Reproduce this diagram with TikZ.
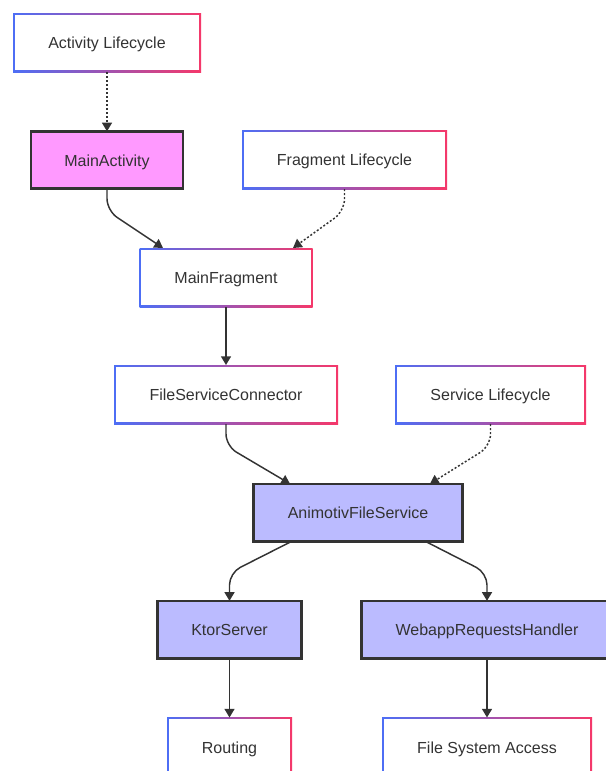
\documentclass[tikz,border=0pt]{standalone}
\usepackage{fontspec}
\setmainfont{Liberation Sans}
\usetikzlibrary{arrows.meta,calc}
\definecolor{txtgray}{HTML}{333333}
\definecolor{edgeblue}{HTML}{4D6EF5}
\definecolor{edgepink}{HTML}{F5386A}
\definecolor{actfill}{HTML}{FF99FF}
\definecolor{svcfill}{HTML}{BBBBFF}

\begin{document}
\begin{tikzpicture}[x=0.75pt,y=-0.75pt,
  box/.style={rectangle,minimum height=44.25pt,inner sep=0pt,outer sep=0pt,text height=9.5pt,text depth=0pt,text=txtgray,font=\fontsize{12pt}{14pt}\selectfont},
  lifebox/.style={box,path picture={
    \shade[left color=edgeblue,right color=edgepink] (path picture bounding box.south west) rectangle (path picture bounding box.north east);
    \fill[white] ([shift={(1.3pt,1.3pt)}]path picture bounding box.south west) rectangle ([shift={(-1.3pt,-1.3pt)}]path picture bounding box.north east);}},
  corebox/.style={box,draw=txtgray,line width=2pt,minimum height=43pt},
  link/.style={draw=txtgray,line width=1.1pt,-{Triangle[width=7.5pt,length=6.5pt]},rounded corners=9pt},
  hook/.style={link,dash pattern=on 1.5pt off 1.5pt}]
\useasboundingbox (0,0) rectangle (606,771);
\clip (0,0) rectangle (606,771);

\node[lifebox,minimum width=141pt] (actlc) at (107,42.5) {Activity Lifecycle};
\node[corebox,fill=actfill,minimum width=114pt] (mainact) at (107,160) {MainActivity};
\node[lifebox,minimum width=153.75pt] (fraglc) at (344.5,159.5) {Fragment Lifecycle};
\node[lifebox,minimum width=129.75pt] (mainfrag) at (226,277.5) {MainFragment};
\node[lifebox,minimum width=168pt] (fsconn) at (226,394.5) {FileServiceConnector};
\node[lifebox,minimum width=143.25pt] (svclc) at (490.5,394.5) {Service Lifecycle};
\node[corebox,fill=svcfill,minimum width=157pt] (afs) at (358,512.5) {AnimotivFileService};
\node[corebox,fill=svcfill,minimum width=108pt] (ktor) at (229.5,629.5) {KtorServer};
\node[corebox,fill=svcfill,minimum width=188pt] (webapp) at (487,629.5) {WebappRequestsHandler};
\node[lifebox,minimum width=93.75pt] (routing) at (229.5,747) {Routing};
\node[lifebox,minimum width=157.5pt] (fsaccess) at (487,747) {File System Access};

\draw[hook] (actlc.south) -- (mainact.north);
\draw[link] (mainact.south) -- ++(0,22) -- ($(mainfrag.north)+(-63,0)$);
\draw[hook] (fraglc.south) -- ++(0,22) -- ($(mainfrag.north)+(67,0)$);
\draw[link] (mainfrag.south) -- (fsconn.north);
\draw[link] (fsconn.south) -- ++(0,22) -- ($(afs.north)+(-68,0)$);
\draw[hook] (svclc.south) -- ++(0,22) -- ($(afs.north)+(72,0)$);
\draw[link] ($(afs.south)+(-66,0)$) -- ($(ktor.north)+(0,-28)$) -- (ktor.north);
\draw[link] ($(afs.south)+(67,0)$) -- ($(webapp.north)+(0,-28)$) -- (webapp.north);
\draw[link] (ktor.south) -- (routing.north);
\draw[link] (webapp.south) -- (fsaccess.north);
\end{tikzpicture}
\end{document}
